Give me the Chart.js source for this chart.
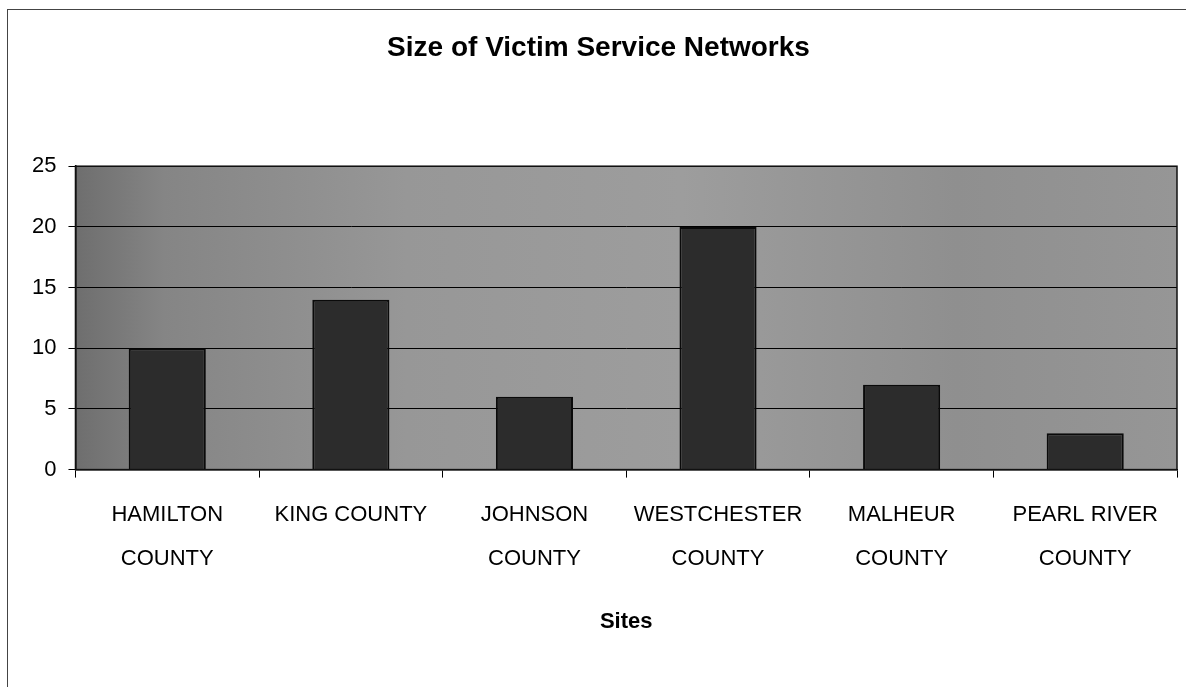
<!DOCTYPE html>
<html>
<head>
<meta charset="utf-8">
<script src="https://cdn.jsdelivr.net/npm/chart.js@4.4.1/dist/chart.umd.min.js"></script>
<style>
  html, body { margin: 0; padding: 0; background: #fff; }
  #wrap { position: relative; width: 1186px; height: 687px; }
  #frame {
    position: absolute; left: 7px; top: 9px; right: 0; bottom: 0;
    border-left: 1px solid #444; border-top: 1px solid #444;
    pointer-events: none;
  }
</style>
</head>
<body>
<div id="wrap">
  <canvas id="sizeChart" width="1186" height="687"></canvas>
  <div id="frame"></div>
</div>
<script>
// ================= DATA =================
const sites = [
  ["HAMILTON", "COUNTY"],
  "KING COUNTY",
  ["JOHNSON", "COUNTY"],
  ["WESTCHESTER", "COUNTY"],
  ["MALHEUR", "COUNTY"],
  ["PEARL RIVER", "COUNTY"]
];
const networkSize = [10, 14, 6, 20, 7, 3];
const yMin = 0;
const yMax = 25;
const yStep = 5;

const sans = "'Liberation Sans', Arial, sans-serif";

// ---------- plot area background + frame ----------
const plotArea = {
  id: "plotArea",
  beforeDraw(chart) {
    const { ctx, chartArea: a } = chart;
    const g = ctx.createLinearGradient(a.left, 0, a.right, 0);
    g.addColorStop(0, "#6e6e6e");
    g.addColorStop(0.08, "#858585");
    g.addColorStop(0.3, "#979797");
    g.addColorStop(0.55, "#9d9d9d");
    g.addColorStop(0.8, "#8f8f8f");
    g.addColorStop(1, "#969696");
    ctx.save();
    ctx.fillStyle = g;
    ctx.fillRect(a.left, a.top, a.right - a.left, a.bottom - a.top);
    ctx.restore();
  },
  afterDraw(chart) {
    const { ctx, chartArea: a } = chart;
    ctx.save();
    ctx.strokeStyle = "#111";
    ctx.lineWidth = 1.5;
    ctx.strokeRect(a.left, a.top, a.right - a.left, a.bottom - a.top);
    ctx.restore();
  }
};

window.onload = () => {
  const ctx = document.getElementById("sizeChart");

  new Chart(ctx.getContext("2d"), {
    type: "bar",
    data: {
      labels: sites,
      datasets: [
        {
          label: "Size of Victim Service Networks",
          data: networkSize,
          backgroundColor: "#2c2c2c",
          borderColor: "#0a0a0a",
          borderWidth: 2,
          barPercentage: 0.42,
          categoryPercentage: 1
        }
      ]
    },
    options: {
      responsive: false,
      animation: false,
      layout: { padding: { left: 20, right: 9, top: 0, bottom: 52 } },
      plugins: {
        legend: { display: false },
        tooltip: { enabled: false },
        title: {
          display: true,
          text: "Size of Victim Service Networks",
          color: "#000",
          font: { family: sans, size: 28, weight: "bold" },
          padding: { top: 31, bottom: 101.6 }
        }
      },
      scales: {
        x: {
          grid: { display: true, drawOnChartArea: false, drawTicks: true, tickLength: 8, color: "#000", offset: true },
          border: { display: true, color: "#000", width: 1.5 },
          ticks: {
            color: "#000",
            padding: 15,
            maxRotation: 0,
            autoSkip: false,
            font: { family: sans, size: 22, lineHeight: 2 }
          },
          title: {
            display: true,
            text: "Sites",
            color: "#000",
            font: { family: sans, size: 22, weight: "bold" },
            padding: { top: 13, bottom: 0 }
          }
        },
        y: {
          min: yMin,
          max: yMax,
          grid: { color: "#000", lineWidth: 1, tickLength: 7 },
          border: { display: true, color: "#000", width: 1.5 },
          ticks: {
            stepSize: yStep,
            color: "#000",
            padding: 12,
            font: { family: sans, size: 22 }
          }
        }
      }
    },
    plugins: [plotArea]
  });
};
</script>
</body>
</html>
